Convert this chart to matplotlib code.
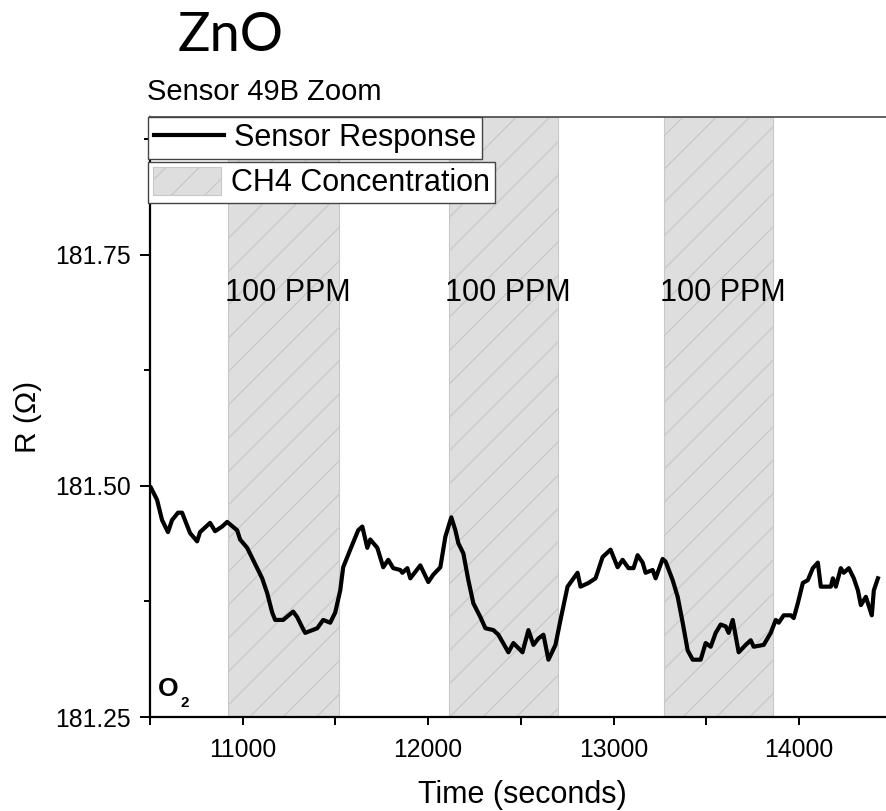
import matplotlib
matplotlib.use("Agg")
import matplotlib.pyplot as plt
from matplotlib.patches import Patch
from matplotlib.lines import Line2D
from matplotlib.ticker import MultipleLocator, FormatStrFormatter

plt.rcParams['font.family'] = ['Liberation Sans', 'DejaVu Sans']
plt.rcParams['hatch.linewidth'] = 0.9

# ---------------- data ----------------
time_s = [10505, 10538, 10565, 10597, 10619, 10651, 10673, 10716, 10754, 10770,
          10824, 10851, 10889, 10916, 10970, 10986, 11024, 11056, 11105, 11132,
          11159, 11175, 11218, 11272, 11294, 11321, 11337, 11402, 11434, 11472,
          11499, 11526, 11542, 11580, 11623, 11645, 11672, 11688, 11726, 11758,
          11785, 11812, 11850, 11861, 11888, 11904, 11958, 12001, 12028, 12066,
          12093, 12125, 12147, 12163, 12190, 12217, 12244, 12282, 12309, 12352,
          12379, 12433, 12460, 12509, 12541, 12568, 12595, 12622, 12649, 12687,
          12714, 12752, 12806, 12822, 12865, 12903, 12941, 12984, 13022, 13049,
          13081, 13108, 13130, 13157, 13173, 13211, 13227, 13265, 13281, 13319,
          13346, 13373, 13400, 13427, 13470, 13497, 13524, 13551, 13578, 13605,
          13621, 13643, 13675, 13713, 13740, 13756, 13810, 13848, 13875, 13891,
          13918, 13956, 13972, 13994, 14021, 14048, 14075, 14102, 14118, 14172,
          14183, 14199, 14226, 14242, 14269, 14296, 14318, 14334, 14361, 14393,
          14404, 14426]
resistance = [181.498, 181.485, 181.463, 181.450, 181.463, 181.471, 181.471, 181.449, 181.440, 181.450,
              181.460, 181.451, 181.456, 181.461, 181.452, 181.442, 181.433, 181.420, 181.400, 181.384,
              181.363, 181.355, 181.355, 181.364, 181.358, 181.347, 181.341, 181.346, 181.355, 181.352,
              181.363, 181.387, 181.412, 181.431, 181.452, 181.456, 181.433, 181.442, 181.433, 181.412,
              181.420, 181.411, 181.409, 181.406, 181.411, 181.400, 181.414, 181.396, 181.404, 181.412,
              181.445, 181.466, 181.452, 181.438, 181.427, 181.398, 181.373, 181.358, 181.346, 181.344,
              181.339, 181.320, 181.330, 181.320, 181.344, 181.328, 181.335, 181.339, 181.312, 181.328,
              181.355, 181.391, 181.406, 181.391, 181.395, 181.400, 181.423, 181.431, 181.412, 181.420,
              181.411, 181.411, 181.425, 181.417, 181.406, 181.409, 181.400, 181.421, 181.418, 181.398,
              181.380, 181.352, 181.322, 181.312, 181.312, 181.330, 181.326, 181.341, 181.350, 181.348,
              181.341, 181.355, 181.320, 181.328, 181.333, 181.326, 181.328, 181.341, 181.355, 181.352,
              181.360, 181.360, 181.357, 181.373, 181.395, 181.398, 181.411, 181.417, 181.391, 181.391,
              181.400, 181.391, 181.411, 181.406, 181.411, 181.400, 181.387, 181.371, 181.380, 181.360,
              181.387, 181.400]

gas_start = [10920, 12110, 13270]
gas_end = [11520, 12700, 13860]
gas_labels = ["100 PPM", "100 PPM", "100 PPM"]
label_level = 181.70

x_ticks = [11000, 12000, 13000, 14000]
y_ticks = [181.25, 181.50, 181.75]

# ---------------- figure ----------------
fig = plt.figure(figsize=(8.87, 8.11), dpi=100)
ax = fig.add_axes([150/887, 1-717/811, 1-150/887, (717-117)/811])

fill_c = '#dedede'
hatch_c = '#c8c8c8'
for s, e, lab in zip(gas_start, gas_end, gas_labels):
    ax.axvspan(s, e, facecolor=fill_c, edgecolor=hatch_c, hatch='/', lw=0.8, zorder=1)
    ax.text((s + e) / 2 + 25, label_level, lab, ha='center', va='baseline',
            fontsize=22, color='black', zorder=3)

ax.plot(time_s, resistance, color='black', lw=3.0, zorder=4)

ax.set_xlim(10500, 14475)
ax.set_ylim(181.25, 181.899)

ax.set_xticks(x_ticks)
ax.set_yticks(y_ticks)
ax.xaxis.set_minor_locator(MultipleLocator(500))
ax.yaxis.set_minor_locator(MultipleLocator(0.125))
ax.yaxis.set_major_formatter(FormatStrFormatter('%.2f'))
ax.tick_params(axis='both', which='both', direction='out', width=1.4, color='black',
               labelsize=17.8)
ax.tick_params(axis='y', which='major', length=7.5, pad=6)
ax.tick_params(axis='y', which='minor', length=4.5)
ax.tick_params(axis='x', which='major', length=6, pad=9)
ax.tick_params(axis='x', which='minor', length=5.5)
ax.tick_params(axis='x', which='minor', labelbottom=False)

for sp in ['left', 'bottom']:
    ax.spines[sp].set_linewidth(1.6)
    ax.spines[sp].set_color('black')
ax.spines['top'].set_linewidth(1.3)
ax.spines['top'].set_color('#555555')
ax.spines['right'].set_visible(False)

ax.set_xlabel('Time (seconds)', fontsize=22)
ax.xaxis.set_label_coords(0.505, -0.105)
ax.set_ylabel('R (Ω)', fontsize=21.5)
ax.yaxis.set_label_coords(-0.146, 0.5)

ax.text(-0.004, 1.028, 'Sensor 49B Zoom', transform=ax.transAxes,
        fontsize=21, ha='left', va='baseline')

# O2 label
ax.text(0.011, 0.035, 'O', transform=ax.transAxes, fontsize=19,
        fontweight='bold', ha='left', va='baseline', zorder=5)
ax.text(0.041, 0.016, '2', transform=ax.transAxes, fontsize=11,
        fontweight='bold', ha='left', va='baseline', zorder=5)

# ZnO header
fig.text(178/887, 1-51/811, 'ZnO', fontsize=39, family=['Lato', 'DejaVu Sans'],
         ha='left', va='baseline')

# legends (two separate boxes)
h1 = Line2D([], [], color='black', lw=3.0)
leg1 = fig.legend([h1], ['Sensor Response'], loc='upper left',
                  bbox_to_anchor=(148/887, 1-117/811), borderaxespad=0,
                  fontsize=22, frameon=True, fancybox=False, framealpha=1,
                  edgecolor='#444444', borderpad=0.2, handlelength=2.3,
                  handletextpad=0.3)
leg1.get_frame().set_linewidth(1.0)

h2 = Patch(facecolor=fill_c, edgecolor=hatch_c, hatch='/', lw=0.8)
leg2 = fig.legend([h2], ['CH4 Concentration'], loc='upper left',
                  bbox_to_anchor=(148/887, 1-162/811), borderaxespad=0,
                  fontsize=22, frameon=True, fancybox=False, framealpha=1,
                  edgecolor='#444444', borderpad=0.15, handlelength=2.25,
                  handleheight=1.05, handletextpad=0.33)
leg2.get_frame().set_linewidth(1.0)

fig.savefig('out.png', dpi=100)
